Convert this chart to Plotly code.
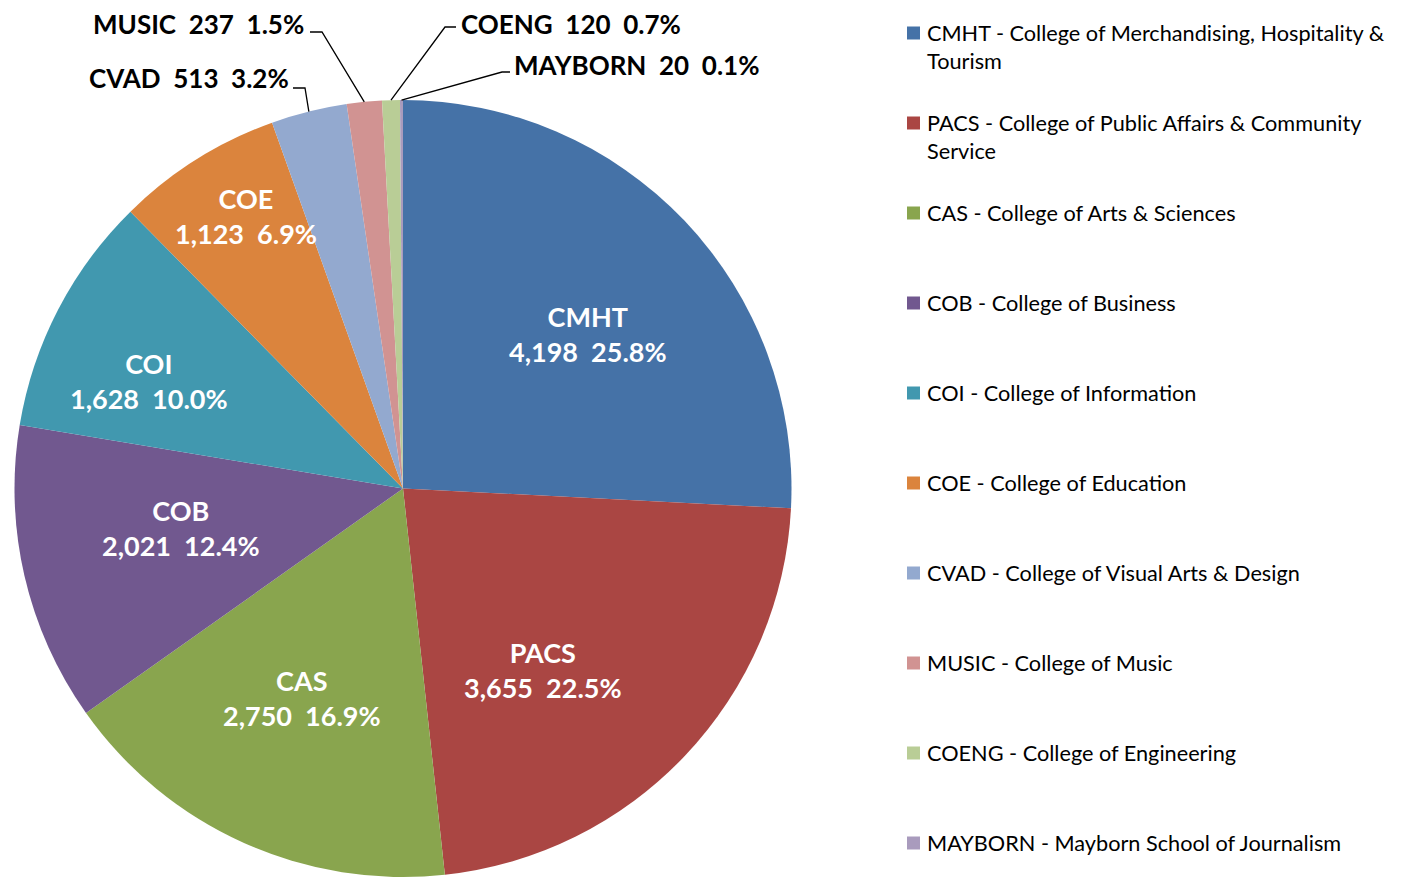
import math
import plotly.graph_objects as go

# enrollment by college
codes = ["CMHT", "PACS", "CAS", "COB", "COI", "COE", "CVAD", "MUSIC", "COENG", "MAYBORN"]
names = [
    "CMHT - College of Merchandising, Hospitality &<br>Tourism",
    "PACS - College of Public Affairs & Community<br>Service",
    "CAS - College of Arts & Sciences",
    "COB - College of Business",
    "COI - College of Information",
    "COE - College of Education",
    "CVAD - College of Visual Arts & Design",
    "MUSIC - College of Music",
    "COENG - College of Engineering",
    "MAYBORN - Mayborn School of Journalism",
]
counts = [4198, 3655, 2750, 2021, 1628, 1123, 513, 237, 120, 20]
colors = ["#4572A7", "#AA4643", "#89A54E", "#71588F", "#4198AF",
          "#DB843D", "#93A9CF", "#D19392", "#B9CD96", "#A99BBD"]

W, H = 1412, 877
OFF = 8  # page body margin
FONT = "Lato"

# pie box in page pixels
pie_l, pie_r, pie_t, pie_b = 14, 792, 100, 877
cx = (pie_l + pie_r) / 2
cy = (pie_t + pie_b) / 2
R = min(pie_r - pie_l, pie_b - pie_t) / 2


def xp(p):
    return (p - OFF) / W


def yp(p):
    return 1 - (p - OFF) / H


total = sum(counts)
pcts = [c / total * 100 for c in counts]
mids = []
acc = 0
for c in counts:
    mids.append((acc + c / 2) / total * 360)
    acc += c


def polar(deg, r):
    a = math.radians(deg)
    return cx + r * math.sin(a), cy - r * math.cos(a)


fig = go.Figure(go.Pie(
    labels=codes,
    values=counts,
    sort=False,
    direction="clockwise",
    rotation=0,
    marker=dict(colors=colors, line=dict(width=0)),
    textinfo="none",
    hoverinfo="label+value+percent",
    showlegend=False,
    domain=dict(x=[xp(pie_l), xp(pie_r)], y=[max(0, yp(pie_b)), yp(pie_t)]),
))

annotations = []
shapes = []

# labels inside the big slices: (radius factor, angle nudge)
inside = {"CMHT": (0.62, 3.7), "PACS": (0.59, 9.0), "CAS": (0.60, 1.5),
          "COB": (0.58, 2.8), "COI": (0.71, -4.5), "COE": (0.81, 2.3)}
for i, code in enumerate(codes):
    if code not in inside:
        continue
    f, nudge = inside[code]
    x, y = polar(mids[i] + nudge, R * f)
    annotations.append(dict(
        x=xp(x), y=yp(y), xref="paper", yref="paper", showarrow=False,
        text=f"{code}<br>{counts[i]:,}\u00a0\u00a0{pcts[i]:.1f}%",
        font=dict(family=FONT, size=27, color="white", weight="bold"),
        xanchor="center", yanchor="middle", align="center",
    ))

# labels outside the small slices: text anchor, side, leader elbow (near, far)
outside = {
    "CVAD": ((291, 78), "right", (305, 88), (293, 88)),
    "MUSIC": ((306, 24), "right", (322, 32), (310, 32)),
    "COENG": ((459, 24), "left", (445, 27), (456, 27)),
    "MAYBORN": ((512, 65), "left", (502, 72), (510, 72)),
}
for i, code in enumerate(codes):
    if code not in outside:
        continue
    (tx, ty), side, e1, e2 = outside[code]
    annotations.append(dict(
        x=xp(tx), y=yp(ty), xref="paper", yref="paper", showarrow=False,
        text=f"{code}\u00a0\u00a0{counts[i]:,}\u00a0\u00a0{pcts[i]:.1f}%",
        font=dict(family=FONT, size=26, color="black", weight="bold"),
        xanchor=side, yanchor="middle",
    ))
    tip = polar(mids[i], R)
    shapes.append(dict(
        type="path", xref="paper", yref="paper",
        path=f"M {xp(tip[0])},{yp(tip[1])} L {xp(e1[0])},{yp(e1[1])} L {xp(e2[0])},{yp(e2[1])}",
        line=dict(color="black", width=1.3),
    ))

# legend on the right
leg_x, leg_top, leg_step, sq = 907, 33, 90.0, 13
for i, code in enumerate(codes):
    y0 = leg_top + i * leg_step
    shapes.append(dict(
        type="rect", xref="paper", yref="paper",
        x0=xp(leg_x), x1=xp(leg_x + sq), y0=yp(y0 - sq / 2), y1=yp(y0 + sq / 2),
        fillcolor=colors[i], line=dict(width=0),
    ))
    annotations.append(dict(
        x=xp(leg_x + 18), y=yp(y0 - 15), xref="paper", yref="paper", showarrow=False,
        text=names[i], align="left", xanchor="left", yanchor="top",
        font=dict(family=FONT, size=21.7, color="black"),
    ))

fig.update_layout(
    width=W, height=H,
    margin=dict(l=0, r=0, t=0, b=0),
    paper_bgcolor="white",
    plot_bgcolor="white",
    annotations=annotations,
    shapes=shapes,
)

fig.write_html("out.html")
